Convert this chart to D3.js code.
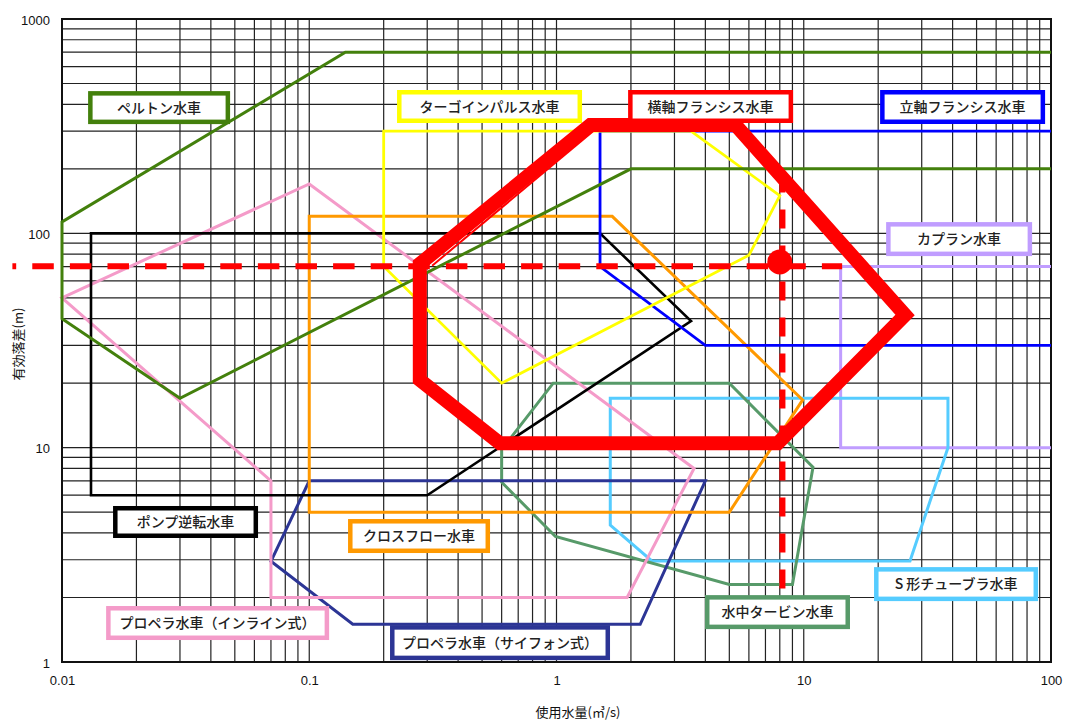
<!DOCTYPE html>
<html>
<head>
<meta charset="utf-8">
<script src="https://cdn.jsdelivr.net/npm/d3@7"></script>
<style>
  html, body { margin: 0; padding: 0; background: #fff; }
  svg { display: block; }
</style>
</head>
<body>
<svg id="chart" width="1066" height="720"></svg>
<script>
// Axis tick labels
const xTickLabels = [0.01, 0.1, 1, 10, 100];
const yTickLabels = [1, 10, 100, 1000];

// Application ranges of each turbine type: [flow m3/s, head m]
const pelton       = [[100, 700], [0.14, 700], [0.01, 113], [0.01, 40], [0.03, 17], [2.0, 200], [100, 200]];
const turgo        = [[0.2, 300], [3.5, 300], [8, 150], [6, 79], [0.6, 20], [0.2, 70]];
const francisHoriz = [[1.37, 320], [5.3, 320], [25.7, 41.6], [7.85, 10.5], [0.59, 10.5], [0.28, 20.7], [0.28, 72]];
const francisHorizInner1 = [[0.294, 70.6], [1.37, 313]];
const francisHorizInner2 = [[0.314, 70.6], [1.47, 313]];
const francisVert  = [[100, 300], [1.5, 300], [1.5, 70], [4, 30], [100, 30]];
const kaplan       = [[100, 70], [14.1, 70], [14.1, 10], [100, 10]];
const crossFlow    = [[0.1, 120], [1.68, 120], [9.9, 16.7], [5, 5], [0.1, 5]];
const pumpReverse  = [[0.0131, 100], [1.5, 100], [3.5, 39], [0.3, 6], [0.0131, 6]];
const propInline   = [[0.01, 50], [0.1, 170], [3.6, 8], [1.93, 2], [0.07, 2], [0.07, 7]];
const propSiphon   = [[0.07, 2.95], [0.1, 7], [4, 7], [2.18, 1.5], [0.15, 1.5]];
const submersible  = [[0.97, 20], [5, 20], [10.9, 8.1], [9, 2.3], [5, 2.3], [0.99, 3.85], [0.6, 6.9], [0.6, 9.8]];
const sTube        = [[1.65, 17], [38.3, 17], [38.3, 10], [26.9, 2.96], [2.43, 2.96], [1.65, 4.35]];

// Planned operating point and its guide lines
const designPoint = [8.0, 73.5];
const designHeadLine = [[0.0063, 70.3], [14.3, 70.3]];
const designFlowLine = [[8.2, 190], [8.2, 1.26]];

// Label names and their anchor (centre) in data space
const labelNames   = ["ペルトン水車", "ターゴインパルス水車", "横軸フランシス水車", "立軸フランシス水車", "カプラン水車",
                      "ポンプ逆転水車", "クロスフロー水車", "プロペラ水車（インライン式）", "プロペラ水車（サイフォン式）",
                      "水中タービン水車", "S 形チューブラ水車"];
const labelAnchors = [[0.0247, 386], [0.536, 390.6], [4.2, 390.6], [43.9, 388.5], [42.5, 94.0],
                      [0.0316, 4.5], [0.278, 3.87], [0.0426, 1.52], [0.591, 1.231],
                      [7.83, 1.709], [41.3, 2.309]];

const svg = d3.select("#chart");
const plot = { left: 62, right: 1051, top: 19, bottom: 662 };

const x = d3.scaleLog().domain([0.01, 100]).range([plot.left, plot.right]);
const y = d3.scaleLog().domain([1, 1000]).range([plot.bottom, plot.top]);

const numFont = "'Liberation Sans', Arial, sans-serif";
const jpFont = "'Noto Sans CJK JP', 'Noto Sans', sans-serif";

// Log grid
const grid = svg.append("g").attr("class", "grid");
grid.selectAll("line.vx").data(x.ticks()).join("line")
  .attr("x1", d => x(d)).attr("x2", d => x(d))
  .attr("y1", plot.top).attr("y2", plot.bottom)
  .attr("stroke", "#222").attr("stroke-width", 1.2);
grid.selectAll("line.hy").data(y.ticks()).join("line")
  .attr("x1", plot.left).attr("x2", plot.right)
  .attr("y1", d => y(d)).attr("y2", d => y(d))
  .attr("stroke", "#222").attr("stroke-width", 1.2);

// Axes (labels only; the frame is drawn separately)
const xAxis = d3.axisBottom(x).tickValues(xTickLabels).tickSize(0).tickPadding(14)
  .tickFormat(d => String(d));
const yAxis = d3.axisLeft(y).tickValues(yTickLabels).tickSize(0).tickPadding(12)
  .tickFormat(d => String(d));
const gx = svg.append("g").attr("transform", `translate(0,${plot.bottom})`).call(xAxis);
const gy = svg.append("g").attr("transform", `translate(${plot.left},0)`).call(yAxis);
[gx, gy].forEach(g => {
  g.select(".domain").remove();
  g.selectAll("text").attr("font-family", numFont).attr("font-size", 13).attr("fill", "#111");
});
gy.selectAll("text").attr("dy", "0.4em");

// Frame
svg.append("rect")
  .attr("x", plot.left).attr("y", plot.top)
  .attr("width", plot.right - plot.left).attr("height", plot.bottom - plot.top)
  .attr("fill", "none").attr("stroke", "#111").attr("stroke-width", 2);

// Axis titles
svg.append("text")
  .attr("x", 578).attr("y", 717)
  .attr("text-anchor", "middle")
  .attr("font-family", jpFont).attr("font-size", 13).attr("fill", "#111")
  .text("使用水量(㎥/s)");
svg.append("text")
  .attr("transform", "translate(23,344) rotate(-90)")
  .attr("text-anchor", "middle")
  .attr("font-family", jpFont).attr("font-size", 13).attr("fill", "#111")
  .text("有効落差(m)");

// Range outlines
const line = d3.line().x(d => x(d[0])).y(d => y(d[1]));
const area = d3.line().x(d => x(d[0])).y(d => y(d[1])).curve(d3.curveLinearClosed);
const shapes = svg.append("g").attr("fill", "none").attr("stroke-linejoin", "miter");

function outline(data, color, width, closed) {
  shapes.append("path")
    .attr("d", closed ? area(data) : line(data))
    .attr("stroke", color).attr("stroke-width", width);
}

outline(kaplan, "#c09dff", 3, false);
outline(sTube, "#55ccff", 3, true);
outline(submersible, "#579a69", 3, true);
outline(propSiphon, "#2c3595", 3, true);
outline(propInline, "#f49bc9", 3, true);
outline(crossFlow, "#ff9900", 3, true);
outline(pumpReverse, "#000000", 2.6, true);
outline(francisVert, "#0000ff", 2.8, false);
outline(turgo, "#ffff00", 2.8, true);
outline(pelton, "#43800c", 3, false);
outline(francisHorizInner1, "#ff0000", 2, false);
outline(francisHorizInner2, "#ff0000", 2, false);
outline(francisHoriz, "#ff0000", 14, true);

// Operating point guides
svg.append("path")
  .attr("d", line(designHeadLine))
  .attr("stroke", "#ff0000").attr("stroke-width", 6).attr("fill", "none")
  .attr("stroke-dasharray", "21.5,16.1").attr("stroke-dashoffset", 17.7);
svg.append("path")
  .attr("d", line(designFlowLine))
  .attr("stroke", "#ff0000").attr("stroke-width", 6).attr("fill", "none")
  .attr("stroke-dasharray", "19,17");
svg.append("circle")
  .attr("cx", x(designPoint[0])).attr("cy", y(designPoint[1]))
  .attr("r", 12.5).attr("fill", "#ff0000");

// Labels
const labelStyle = [
  { c: "#43800c", w: 142, h: 33 },
  { c: "#ffff00", w: 185, h: 33 },
  { c: "#ff0000", w: 165, h: 33 },
  { c: "#0000ff", w: 165, h: 34 },
  { c: "#c09dff", w: 146, h: 34 },
  { c: "#000000", w: 145, h: 32 },
  { c: "#ff9900", w: 142, h: 34 },
  { c: "#f49bc9", w: 223, h: 34 },
  { c: "#2c3595", w: 220, h: 35 },
  { c: "#579a69", w: 145, h: 34 },
  { c: "#55ccff", w: 164, h: 34 }
];
const bw = 4.5;
const labels = svg.append("g").selectAll("g").data(labelNames).join("g")
  .attr("transform", (d, i) => `translate(${x(labelAnchors[i][0])},${y(labelAnchors[i][1])})`);
labels.append("rect")
  .attr("x", (d, i) => -labelStyle[i].w / 2 + bw / 2)
  .attr("y", (d, i) => -labelStyle[i].h / 2 + bw / 2)
  .attr("width", (d, i) => labelStyle[i].w - bw)
  .attr("height", (d, i) => labelStyle[i].h - bw)
  .attr("fill", "#fff")
  .attr("stroke", (d, i) => labelStyle[i].c)
  .attr("stroke-width", bw);
labels.append("text")
  .attr("text-anchor", "middle").attr("dy", "0.36em")
  .attr("font-family", jpFont).attr("font-size", 14).attr("font-weight", 500).attr("fill", "#222")
  .text(d => d);
</script>
</body>
</html>
